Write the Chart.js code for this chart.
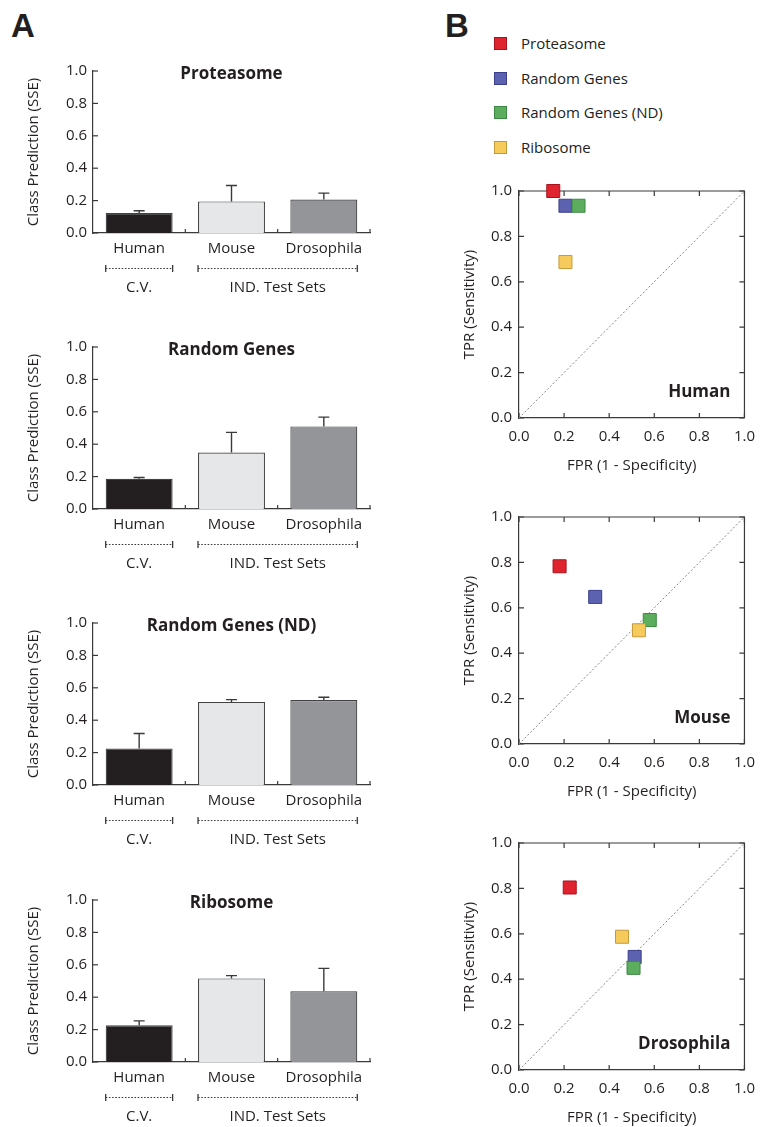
<!DOCTYPE html>
<html>
<head>
<meta charset="utf-8">
<script src="https://cdn.jsdelivr.net/npm/chart.js@4.4.1/dist/chart.umd.min.js"></script>
<style>
  body { margin: 0; background: #fff; }
  #wrap { position: relative; width: 763px; height: 1127px; overflow: hidden; font-family: 'Open Sans', sans-serif; color: #231f20; }
  .box { position: absolute; }
  .letter { position: absolute; font-family: 'Liberation Sans', Arial, sans-serif; font-weight: bold; font-size: 33px; line-height: 33px; color: #231f20; }
  .legRow { position: absolute; left: 494px; height: 16px; font-size: 15px; line-height: 16px; }
  .legSq { position: absolute; left: 0; top: 1px; width: 13px; height: 13px; box-sizing: border-box; }
  .legTxt { position: absolute; left: 27px; top: -1px; white-space: nowrap; }
</style>
</head>
<body>
<div id="wrap">
  <div class="letter" style="left:11px; top:9px;">A</div>
  <div class="letter" style="left:445px; top:9px;">B</div>
  <div id="legend"></div>
</div>
<script>
// panel A: class prediction error (SSE) per gene set
const barCategories = ["Human", "Mouse", "Drosophila"];
const groupLabels = ["C.V.", "IND. Test Sets"];
const groupFirst = [0, 1];
const groupLast = [0, 2];
const geneSets = ["Proteasome", "Random Genes", "Random Genes (ND)", "Ribosome"];

const sseProteasome = [0.123, 0.195, 0.207];
const errProteasome = [0.014, 0.098, 0.039];
const sseRandom = [0.186, 0.349, 0.510];
const errRandom = [0.008, 0.124, 0.057];
const sseRandomND = [0.226, 0.513, 0.525];
const errRandomND = [0.092, 0.014, 0.017];
const sseRibosome = [0.227, 0.516, 0.436];
const errRibosome = [0.027, 0.017, 0.142];

// panel B: ROC points, one per gene set (same order as geneSets)
const rocSpecies = ["Human", "Mouse", "Drosophila"];
const fprHuman = [0.152, 0.206, 0.264, 0.206];
const tprHuman = [1.0, 0.935, 0.935, 0.687];
const fprMouse = [0.180, 0.338, 0.580, 0.532];
const tprMouse = [0.783, 0.648, 0.546, 0.501];
const fprDrosophila = [0.225, 0.513, 0.508, 0.457];
const tprDrosophila = [0.804, 0.498, 0.450, 0.587];

const axisMin = 0;
const axisMax = 1;
const axisStep = 0.2;

const barFill = ["#231f20", "#e6e7e8", "#939598"];
const pointFill = ["#e0242f", "#5d62b0", "#5cae5e", "#f7cb5b"];
const pointEdge = ["#a8121c", "#3c3f8c", "#3d8843", "#c39a3a"];
const ink = "#231f20";
const axisInk = "#3a3a3a";

Chart.defaults.font.family = "'Open Sans', sans-serif";
Chart.defaults.font.size = 15;
Chart.defaults.color = ink;

let wrap = document.getElementById("wrap");

function addCanvas(id, left, top, width, height) {
    let holder = document.createElement("div");
    holder.className = "box";
    holder.style.left = left + "px";
    holder.style.top = top + "px";
    let cv = document.createElement("canvas");
    cv.id = id;
    cv.width = width;
    cv.height = height;
    cv.style.width = width + "px";
    cv.style.height = height + "px";
    holder.appendChild(cv);
    wrap.appendChild(holder);
    return cv;
}

function rateLabel(v) {
    return Number(v).toFixed(1);
}

// title, error bars, inward ticks and C.V. / IND. brackets for a bar panel
function barExtras(title, errors) {
    return {
        id: "barExtras",
        afterDatasetsDraw(chart) {
            let ctx = chart.ctx;
            let area = chart.chartArea;
            let yScale = chart.scales.y;
            let bars = chart.getDatasetMeta(0).data;
            let values = chart.data.datasets[0].data;
            ctx.save();
            ctx.strokeStyle = axisInk;
            ctx.lineWidth = 1.4;
            for (let i = 0; i < bars.length; i++) {
                let x = bars[i].x;
                let top = yScale.getPixelForValue(values[i] + errors[i]);
                ctx.beginPath();
                ctx.moveTo(x, bars[i].y);
                ctx.lineTo(x, top);
                ctx.moveTo(x - 5.5, top);
                ctx.lineTo(x + 5.5, top);
                ctx.stroke();
            }
            // inward y ticks
            ctx.lineWidth = 1.2;
            yScale.ticks.forEach(t => {
                let py = yScale.getPixelForValue(t.value);
                ctx.beginPath();
                ctx.moveTo(area.left, py);
                ctx.lineTo(area.left + 5, py);
                ctx.stroke();
            });
            // inward ticks between categories
            let cuts = [];
            for (let i = 0; i < bars.length - 1; i++) cuts.push((bars[i].x + bars[i + 1].x) / 2);
            cuts.push(area.right);
            cuts.forEach(cx => {
                ctx.beginPath();
                ctx.moveTo(cx, area.bottom);
                ctx.lineTo(cx, area.bottom - 4);
                ctx.stroke();
            });
            // brackets and group labels
            let by = area.bottom + 35.5;
            ctx.lineWidth = 1;
            for (let g = 0; g < groupLabels.length; g++) {
                let a = bars[groupFirst[g]];
                let b = bars[groupLast[g]];
                let x0 = a.x - a.width / 2;
                let x1 = b.x + b.width / 2;
                ctx.setLineDash([1.6, 1.6]);
                ctx.beginPath();
                ctx.moveTo(x0, by);
                ctx.lineTo(x1, by);
                ctx.stroke();
                ctx.setLineDash([]);
                ctx.lineWidth = 1.3;
                ctx.beginPath();
                ctx.moveTo(x0, by - 3.5);
                ctx.lineTo(x0, by + 3.5);
                ctx.moveTo(x1, by - 3.5);
                ctx.lineTo(x1, by + 3.5);
                ctx.stroke();
                ctx.lineWidth = 1;
                ctx.fillStyle = ink;
                ctx.font = "15px 'Open Sans', sans-serif";
                ctx.textAlign = "center";
                ctx.textBaseline = "middle";
                ctx.fillText(groupLabels[g], (x0 + x1) / 2, area.bottom + 55);
            }
            ctx.font = "bold 17px 'Open Sans', sans-serif";
            ctx.textAlign = "center";
            ctx.textBaseline = "middle";
            ctx.fillText(title, (area.left + area.right) / 2, area.top + 3.5);
            ctx.restore();
        }
    };
}

function makeBarChart(id, top, title, values, errors) {
    addCanvas(id, 10, top - 16, 365, 16 + 162 + 66);
    new Chart(id, {
        type: "bar",
        data: {
            labels: barCategories,
            datasets: [{
                data: values,
                backgroundColor: barFill,
                borderColor: "#414042",
                borderWidth: 1.2,
                barPercentage: 0.725,
                categoryPercentage: 1
            }]
        },
        options: {
            responsive: false,
            animation: false,
            layout: { padding: { top: 16, right: 5, left: 0, bottom: 0 } },
            plugins: { legend: { display: false }, tooltip: { enabled: false } },
            scales: {
                x: {
                    grid: { display: false, drawTicks: false },
                    border: { color: axisInk, width: 1.2 },
                    ticks: { padding: 7, color: ink },
                    afterFit: function(s) { s.height = 66; }
                },
                y: {
                    min: axisMin,
                    max: axisMax,
                    grid: { display: false, drawTicks: false },
                    border: { color: axisInk, width: 1.2 },
                    ticks: { stepSize: axisStep, padding: 6, color: ink, callback: rateLabel },
                    title: { display: true, text: "Class Prediction (SSE)", color: ink, padding: { top: 15, bottom: 0 } },
                    afterFit: function(s) { s.width = 83; }
                }
            }
        },
        plugins: [barExtras(title, errors)]
    });
}

// box frame with inward ticks on all sides, plus species label
function rocExtras(species) {
    return {
        id: "rocExtras",
        beforeDatasetsDraw(chart) {
            let ctx = chart.ctx;
            let area = chart.chartArea;
            let xs = chart.scales.x;
            let ys = chart.scales.y;
            ctx.save();
            ctx.strokeStyle = axisInk;
            ctx.lineWidth = 1.2;
            ctx.beginPath();
            ctx.moveTo(area.left, area.top);
            ctx.lineTo(area.right, area.top);
            ctx.lineTo(area.right, area.bottom);
            ctx.stroke();
            xs.ticks.forEach(t => {
                let px = xs.getPixelForValue(t.value);
                ctx.beginPath();
                ctx.moveTo(px, area.bottom);
                ctx.lineTo(px, area.bottom - 5);
                ctx.moveTo(px, area.top);
                ctx.lineTo(px, area.top + 5);
                ctx.stroke();
            });
            ys.ticks.forEach(t => {
                let py = ys.getPixelForValue(t.value);
                ctx.beginPath();
                ctx.moveTo(area.left, py);
                ctx.lineTo(area.left + 5, py);
                ctx.moveTo(area.right, py);
                ctx.lineTo(area.right - 5, py);
                ctx.stroke();
            });
            ctx.restore();
        },
        afterDraw(chart) {
            let ctx = chart.ctx;
            let area = chart.chartArea;
            ctx.save();
            ctx.fillStyle = ink;
            ctx.font = "bold 17px 'Open Sans', sans-serif";
            ctx.textAlign = "right";
            ctx.textBaseline = "middle";
            ctx.fillText(species, area.right - 14, area.bottom - 26);
            ctx.restore();
        }
    };
}

function makeRocChart(id, top, species, fpr, tpr) {
    addCanvas(id, 455, top - 12, 310, 12 + 231 + 57);
    let datasets = [];
    for (let i = 0; i < geneSets.length; i++) {
        datasets.push({
            label: geneSets[i],
            data: [{ x: fpr[i], y: tpr[i] }],
            pointStyle: "rect",
            pointRadius: 9.2,
            backgroundColor: pointFill[i],
            borderColor: pointEdge[i],
            borderWidth: 1,
            order: -i,
            clip: false
        });
    }
    datasets.push({
        label: "chance",
        data: [{ x: axisMin, y: axisMin }, { x: axisMax, y: axisMax }],
        showLine: true,
        pointRadius: 0,
        borderColor: "#858585",
        borderWidth: 1,
        borderDash: [2, 2],
        order: 10
    });
    new Chart(id, {
        type: "scatter",
        data: { datasets: datasets },
        options: {
            responsive: false,
            animation: false,
            layout: { padding: { top: 12, right: 15, left: 0, bottom: 0 } },
            plugins: { legend: { display: false }, tooltip: { enabled: false } },
            scales: {
                x: {
                    type: "linear",
                    min: axisMin,
                    max: axisMax,
                    grid: { display: false, drawTicks: false },
                    border: { color: axisInk, width: 1.2 },
                    ticks: { stepSize: axisStep, padding: 10, color: ink, callback: rateLabel },
                    title: { display: true, text: "FPR (1 - Specificity)", color: ink, padding: 0 },
                    afterFit: function(s) { s.height = 57; }
                },
                y: {
                    min: axisMin,
                    max: axisMax,
                    grid: { display: false, drawTicks: false },
                    border: { color: axisInk, width: 1.2 },
                    ticks: { stepSize: axisStep, padding: 7, color: ink, callback: rateLabel },
                    title: { display: true, text: "TPR (Sensitivity)", color: ink, padding: { top: 6, bottom: 0 } },
                    afterFit: function(s) { s.width = 64; }
                }
            }
        },
        plugins: [rocExtras(species)]
    });
}

function buildLegend() {
    let legend = document.getElementById("legend");
    for (let i = 0; i < geneSets.length; i++) {
        let row = document.createElement("div");
        row.className = "legRow";
        row.style.top = (36 + i * 34.5) + "px";
        let sq = document.createElement("div");
        sq.className = "legSq";
        sq.style.background = pointFill[i];
        sq.style.border = "1px solid " + pointEdge[i];
        let txt = document.createElement("div");
        txt.className = "legTxt";
        txt.textContent = geneSets[i];
        row.appendChild(sq);
        row.appendChild(txt);
        legend.appendChild(row);
    }
}

makeBarChart("barProteasome", 71, geneSets[0], sseProteasome, errProteasome);
makeBarChart("barRandom", 347, geneSets[1], sseRandom, errRandom);
makeBarChart("barRandomND", 623, geneSets[2], sseRandomND, errRandomND);
makeBarChart("barRibosome", 900, geneSets[3], sseRibosome, errRibosome);

makeRocChart("rocHuman", 187, rocSpecies[0], fprHuman, tprHuman);
makeRocChart("rocMouse", 513, rocSpecies[1], fprMouse, tprMouse);
makeRocChart("rocDrosophila", 839, rocSpecies[2], fprDrosophila, tprDrosophila);

buildLegend();
</script>
</body>
</html>
